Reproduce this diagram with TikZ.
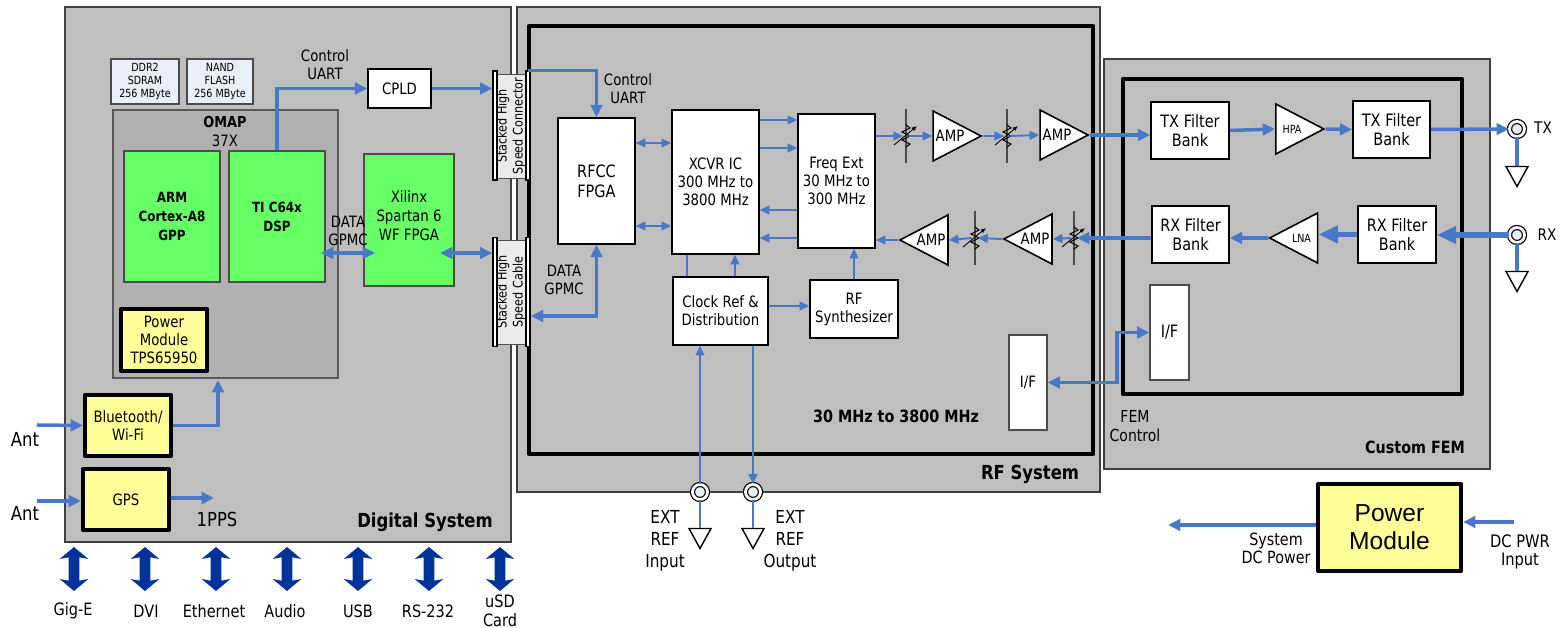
\documentclass[tikz,border=0pt]{standalone}
\usepackage{fontspec}
\setmainfont{DejaVu Sans}[FakeStretch=0.85]
\newfontfamily\arialfont{Liberation Sans}
\usepackage{tikz}
\usetikzlibrary{positioning,calc,arrows.meta,shapes.geometric,shapes.arrows}
\definecolor{wireblue}{HTML}{4878C6}
\definecolor{busblue}{HTML}{003399}
\definecolor{panelgray}{HTML}{BFBFBF}
\definecolor{socgray}{HTML}{B0B0B0}
\definecolor{chipgreen}{HTML}{66FF66}
\definecolor{moduleyellow}{HTML}{FFFF99}
\definecolor{memoryblue}{HTML}{E9EFF8}
\newcommand{\pxu}{0.02cm}
\tikzset{
	sdr block diagram/.style={
		x=\pxu,
		y=-\pxu,
		font=\fontsize{8.9}{10.2}\selectfont,
		every node/.style={inner sep=0pt,align=center},
	},
	box size/.style 2 args={
		minimum width=#1*\pxu,
		minimum height=#2*\pxu
	},
	system panel/.style={
		rectangle,
		draw=black!75,
		fill=panelgray,
		line width=0.6pt
	},
	inner frame/.style={
		rectangle,
		draw=black,
		line width=2.5pt,
		line join=round
	},
	soc box/.style={
		rectangle,
		draw=black!65,
		fill=socgray,
		line width=0.7pt
	},
	memory box/.style={
		rectangle,
		draw=black!70,
		fill=memoryblue,
		line width=0.6pt,
		font=\fontsize{6.4}{7.4}\selectfont
	},
	chip box/.style={
		rectangle,
		draw=black!70,
		fill=chipgreen,
		line width=0.8pt
	},
	module box/.style={
		rectangle,
		draw=black,
		fill=moduleyellow,
		line width=2.3pt,
		line join=round
	},
	block box/.style={
		rectangle,
		draw=black,
		fill=white,
		line width=0.9pt
	},
	filter box/.style={
		block box,
		font=\fontsize{9.7}{11.2}\selectfont
	},
	if box/.style={
		rectangle,
		draw=black!70,
		fill=white,
		line width=0.6pt
	},
	connector bar/.style={
		rectangle,
		draw=black,
		fill=white,
		line width=0.8pt,
		box size={4}{109}
	},
	connector body/.style={
		rectangle,
		draw=black!70,
		fill=black!8,
		line width=0.5pt,
		rotate=90,
		box size={104}{28},
		font=\fontsize{7.5}{9}\selectfont
	},
	amp triangle/.style={
		isosceles triangle,
		isosceles triangle stretches,
		draw=black,
		fill=white,
		line width=0.9pt,
		box size={50}{48}
	},
	small print/.style={
		font=\fontsize{6.4}{7}\selectfont
	},
	ground/.style={
		isosceles triangle,
		isosceles triangle stretches,
		shape border rotate=-90,
		draw=black,
		fill=white,
		line width=0.8pt,
		box size={22}{20}
	},
	port/.style={
		circle,
		draw=black,
		fill=memoryblue,
		line width=0.7pt,
		double=white,
		double distance=1.6pt,
		minimum size=15*\pxu
	},
	wire/.style={
		draw=wireblue,
		line width=2pt,
		-{Triangle[length=7pt,width=6.5pt]}
	},
	wire both/.style={
		draw=wireblue,
		line width=2pt,
		{Triangle[length=7pt,width=6.5pt]}-{Triangle[length=7pt,width=6.5pt]}
	},
	wire plain/.style={
		draw=wireblue,
		line width=2pt
	},
	wire thin/.style={
		draw=wireblue,
		line width=1.1pt,
		-{Triangle[length=5.5pt,width=5pt]}
	},
	wire thin both/.style={
		draw=wireblue,
		line width=1.1pt,
		{Triangle[length=5.5pt,width=5pt]}-{Triangle[length=5.5pt,width=5pt]}
	},
	wire thin plain/.style={
		draw=wireblue,
		line width=1.1pt
	},
	wire thick/.style={
		draw=wireblue,
		line width=3pt,
		-{Triangle[length=11pt,width=9.5pt]}
	},
	bus arrow/.style={
		double arrow,
		fill=busblue,
		rotate=90,
		inner ysep=5*\pxu,
		box size={28}{44},
		double arrow head extend=9*\pxu,
		double arrow tip angle=100,
		double arrow head indent=1pt
	},
	panel title/.style={
		font=\fontsize{11}{12}\selectfont\bfseries
	},
	label title/.style={
		font=\fontsize{9.6}{11}\selectfont\bfseries
	},
	bold text/.style={
		font=\fontsize{8}{10.8}\selectfont\bfseries
	},
	note/.style={
		font=\fontsize{8.9}{10.2}\selectfont
	},
	bottom note/.style={
		font=\fontsize{9.7}{10.5}\selectfont
	},
	wide note/.style={
		font=\fontsize{10.2}{12.5}\selectfont
	},
	big note/.style={
		font=\fontsize{11}{12}\selectfont
	},
	attenuator/.pic={
		\draw[black!70,line width=0.7pt] (0,-27) -- (0,27);
		\draw[black,line width=0.6pt] (0,-11) -- (4,-8) -- (-4,-4) -- (4,0) -- (-4,4) -- (4,8) -- (0,11);
		\draw[black,line width=0.5pt,-{Latex[length=3pt,width=2.5pt]}] (-12,9) -- (11,-10);
		\coordinate (-left) at (-3,0);
		\coordinate (-right) at (3,0);
	}
}

\begin{document}
\begin{tikzpicture}[sdr block diagram]
	\useasboundingbox (0,0) rectangle (1566,628);
	% panels
	\node[system panel,box size={446}{535}] (digital panel) at (288,274.5) {};
	\node[system panel,box size={583}{485}] (rf panel) at (808.5,249.5) {};
	\node[system panel,box size={386}{410}] (fem panel) at (1297,264) {};
	\node[inner frame,box size={564}{428}] (rf frame) at (811,240) {};
	\node[inner frame,box size={339}{315}] (fem frame) at (1292.5,236.5) {};
	\node[panel title] (digital title) at (425,522) {Digital System};
	\node[panel title] (rf title) at (1030,474) {RF System};
	\node[label title] (fem title) at (1415,447) {Custom FEM};
	\node[label title] (band title) at (896,416) {30 MHz to 3800 MHz};

	% digital system
	\begin{scope}
		\node[memory box,box size={68}{45}] (ddr) at (145,81.5) {DDR2\\SDRAM\\256 MByte};
		\node[memory box,box size={66}{45}] (nand) at (220,81.5) {NAND\\FLASH\\256 MByte};
		\node[soc box,box size={225}{268}] (omap) at (225.5,244) {};
		\node[bold text,font=\fontsize{8.6}{10.8}\selectfont\bfseries] (omap title) at (225,122) {OMAP};
		\node[note] (omap part) at (225,141) {37X};
		\node[chip box,bold text,box size={96}{131}] (arm) at (172,216.5) {ARM\\Cortex-A8\\GPP};
		\node[chip box,bold text,box size={96}{131}] (dsp) at (277,216.5) {TI C64x\\DSP};
		\node[chip box,box size={90}{132}] (fpga) at (409,220) {};
		\node[note,font=\fontsize{8.9}{10.8}\selectfont] (fpga text) at (409,216) {Xilinx\\Spartan 6\\WF FPGA};
		\node[module box,box size={86}{62}] (tps) at (164,340) {Power\\Module\\TPS65950};
		\node[block box,box size={63}{39}] (cpld) at (399.5,88.5) {CPLD};
		\node[module box,box size={86}{61}] (bluetooth) at (128,425.5) {Bluetooth/\\Wi-Fi};
		\node[module box,box size={86}{61}] (gps) at (126,499.5) {GPS};
		\node[connector body] (conn top) at (511,126) {Stacked High\\Speed Connector};
		\node[connector bar] (conn top left) at (495,125.5) {};
		\node[connector bar] (conn top right) at (528,125.5) {};
		\node[connector body] (conn bottom) at (511,292) {Stacked High\\Speed Cable};
		\node[connector bar] (conn bottom left) at (495,292) {};
		\node[connector bar] (conn bottom right) at (528,292) {};
		\node[note] (uart label) at (325,65) {Control\\UART};
		\node[note] (gpmc label) at (348,231) {DATA\\GPMC};
		\node[big note] (ant wifi label) at (25,439) {Ant};
		\node[big note] (ant gps label) at (25,513) {Ant};
		\node[big note] (pps label) at (217,519) {1PPS};
		\coordinate (ant wifi) at (37,425);
		\coordinate (ant gps) at (37,501);
		\coordinate (pps end) at (214,498);
		\coordinate (wifi entry) at (218,380);
		\coordinate (gpmc left) at (321,253);
		\coordinate (gpmc right) at (375,253);
		\coordinate (cable start) at (440,253);
		\draw[wire] (dsp.north) |- (cpld.west);
		\draw[wire] (cpld.east) -- (conn top left.west |- cpld.east);
		\draw[wire both] (gpmc left) -- (gpmc right);
		\draw[wire both] (cable start) -- (conn bottom left.west |- cable start);
		\draw[wire] (ant wifi) -- (bluetooth.west);
		\draw[wire] (ant gps) -- (gps.west |- ant gps);
		\draw[wire] (bluetooth.east) -| (wifi entry);
		\draw[wire] (gps.east |- pps end) -- (pps end);
	\end{scope}

	% outside interfaces
	\begin{scope}
		\node[bus arrow] (gige arrow) at (74,569) {};
		\node[bus arrow] (dvi arrow) at (145,569) {};
		\node[bus arrow] (eth arrow) at (216,569) {};
		\node[bus arrow] (audio arrow) at (287,569) {};
		\node[bus arrow] (usb arrow) at (358,569) {};
		\node[bus arrow] (rs arrow) at (429,569) {};
		\node[bus arrow] (usd arrow) at (500,569) {};
		\node[bottom note] (gige label) at (73,611) {Gig-E};
		\node[bottom note] (dvi label) at (146,611) {DVI};
		\node[bottom note] (eth label) at (214,611) {Ethernet};
		\node[bottom note] (audio label) at (285,611) {Audio};
		\node[bottom note] (usb label) at (358,611) {USB};
		\node[bottom note] (rs label) at (428,611) {RS-232};
		\node[bottom note] (usd label) at (500,611) {uSD\\Card};
	\end{scope}

	% rf system
	\begin{scope}
		\node[filter box,box size={77}{126}] (rfcc) at (596.5,181) {RFCC\\FPGA};
		\node[block box,box size={87}{144}] (xcvr) at (715.5,182) {XCVR IC\\300 MHz to\\3800 MHz};
		\node[block box,box size={77}{134}] (freq) at (836.5,181) {Freq Ext\\30 MHz to\\300 MHz};
		\node[block box,box size={95}{68}] (clock) at (720.5,311) {Clock Ref \&\\Distribution};
		\node[block box,box size={88}{58}] (synth) at (854,309) {RF\\Synthesizer};
		\node[if box,box size={38}{95}] (rf if) at (1028,382.5) {I/F};
		\node[amp triangle] (amp tx a) at (950,136) {AMP};
		\node[amp triangle] (amp tx b) at (1057,135) {AMP};
		\node[amp triangle,shape border rotate=180] (amp rx b) at (1035,239) {AMP};
		\node[amp triangle,shape border rotate=180] (amp rx a) at (931,240) {AMP};
		\pic (att tx a) at (906,136) {attenuator};
		\pic (att tx b) at (1007,136) {attenuator};
		\pic (att rx b) at (1074,238) {attenuator};
		\pic (att rx a) at (975,238) {attenuator};
		\node[port] (ref in) at (700,492) {};
		\node[port] (ref out) at (753,492) {};
		\node[ground] (ref in gnd) at (700,535) {};
		\node[ground] (ref out gnd) at (753,535) {};
		\node[note] (rf uart label) at (628,89) {Control\\UART};
		\node[note] (rf gpmc label) at (564,280) {DATA\\GPMC};
		\node[wide note] (ref in label) at (665,541) {EXT\\REF\\Input};
		\node[wide note] (ref out label) at (790,541) {EXT\\REF\\Output};
		\coordinate (row a) at (0,120);
		\coordinate (row b) at (0,143);
		\coordinate (row c) at (0,148);
		\coordinate (row d) at (0,210);
		\coordinate (row e) at (0,226);
		\coordinate (row f) at (0,238);
		\coordinate (row g) at (0,306);
		\coordinate (column a) at (687,0);
		\coordinate (column b) at (735,0);
		\coordinate (gpmc turn) at (596,316);
		\draw[wire] (conn top right.north) -| (rfcc.north);
		\draw[wire both] (rfcc.south) |- (conn bottom right.east |- gpmc turn);
		\draw[wire thin both] (rfcc.east |- row b) -- (xcvr.west |- row b);
		\draw[wire thin both] (rfcc.east |- row e) -- (xcvr.west |- row e);
		\draw[wire thin] (xcvr.east |- row a) -- (freq.west |- row a);
		\draw[wire thin] (xcvr.east |- row c) -- (freq.west |- row c);
		\draw[wire thin] (freq.west |- row d) -- (xcvr.east |- row d);
		\draw[wire thin] (freq.west |- row f) -- (xcvr.east |- row f);
		\draw[wire thin plain] (clock.north -| column a) -- (xcvr.south -| column a);
		\draw[wire thin] (clock.north -| column b) -- (xcvr.south -| column b);
		\draw[wire thin] (clock.east |- row g) -- (synth.west |- row g);
		\draw[wire thin] (synth.north) -- (freq.south -| synth.north);
		\draw[wire thin] (ref in.north) -- (clock.south -| ref in.north);
		\draw[wire thin] (clock.south -| ref out.north) -- (ref out.north);
		\draw[wire thin plain] (ref in.south) -- (ref in gnd.north);
		\draw[wire thin plain] (ref out.south) -- (ref out gnd.north);
		\draw[wire thin] (freq.east |- att tx a-left) -- (att tx a-left);
		\draw[wire thin] (att tx a-right) -- (amp tx a.west);
		\draw[wire thin] (amp tx a.east) -- (att tx b-left);
		\draw[wire thin] (att tx b-right) -- (amp tx b.west);
		\draw[wire thin] (att rx b-left) -- (amp rx b.east);
		\draw[wire thin] (amp rx b.west) -- (att rx a-right);
		\draw[wire thin] (att rx a-left) -- (amp rx a.east);
		\draw[wire thin] (amp rx a.west) -- (freq.east |- amp rx a.west);
	\end{scope}

	% custom fem
	\begin{scope}
		\node[filter box,box size={78}{57}] (tx filter a) at (1190,130.5) {TX Filter\\Bank};
		\node[filter box,box size={77}{57}] (tx filter b) at (1391.5,129.5) {TX Filter\\Bank};
		\node[filter box,box size={77}{57}] (rx filter a) at (1190.5,234.5) {RX Filter\\Bank};
		\node[filter box,box size={78}{57}] (rx filter b) at (1397,234.5) {RX Filter\\Bank};
		\node[if box,box size={39}{95},font=\fontsize{9.7}{11.2}\selectfont] (fem if) at (1169.5,332.5) {I/F};
		\node[amp triangle,small print] (hpa) at (1292,129) {HPA};
		\node[amp triangle,small print,shape border rotate=180] (lna) at (1301.5,238) {LNA};
		\node[port] (tx port) at (1517,129) {};
		\node[port] (rx port) at (1517,235) {};
		\node[ground] (tx gnd) at (1517,173) {};
		\node[ground] (rx gnd) at (1517,278) {};
		\node[note,font=\fontsize{9.1}{10}\selectfont] (tx label) at (1543,128) {TX};
		\node[note,font=\fontsize{9.1}{10}\selectfont] (rx label) at (1547,235) {RX};
		\node[note,font=\fontsize{9.4}{10.4}\selectfont] (fem control label) at (1135,426) {FEM\\Control};
		\coordinate (fem turn) at (1117,355);
		\draw[wire] (amp tx b.east) -- (tx filter a.west |- amp tx b.east);
		\draw[wire] (tx filter a.east) -- (hpa.west);
		\draw[wire] (hpa.east) -- (tx filter b.west);
		\draw[wire] (tx filter b.east) -- (tx port.west);
		\draw[wire thick] (rx port.west) -- (rx filter b.east |- rx port.west);
		\draw[wire thick] (rx filter b.west) -- (lna.east |- rx filter b.west);
		\draw[wire] (lna.west) -- (rx filter a.east |- lna.west);
		\draw[wire] (rx filter a.west |- att rx b-right) -- (att rx b-right);
		\draw[wire both] (fem if.west) -| (fem turn) |- (rf if.east);
		\draw[wire plain] (tx port.south) -- (tx gnd.north);
		\draw[wire plain] (rx port.south) -- (rx gnd.north);
	\end{scope}

	% power
	\begin{scope}
		\node[module box,box size={143}{87},font=\fontsize{14}{16}\selectfont\arialfont] (power) at (1389.5,527.5) {Power\\Module};
		\node[note,font=\fontsize{9.6}{10.4}\selectfont] (system label) at (1276,548) {System\\DC Power};
		\node[note,font=\fontsize{9.8}{10.4}\selectfont] (dc label) at (1520,552) {DC PWR\\Input};
		\coordinate (system end) at (1168,525);
		\coordinate (dc start) at (1514,522);
		\draw[wire] (power.west |- system end) -- (system end);
		\draw[wire] (dc start) -- (power.east |- dc start);
	\end{scope}
\end{tikzpicture}
\end{document}
